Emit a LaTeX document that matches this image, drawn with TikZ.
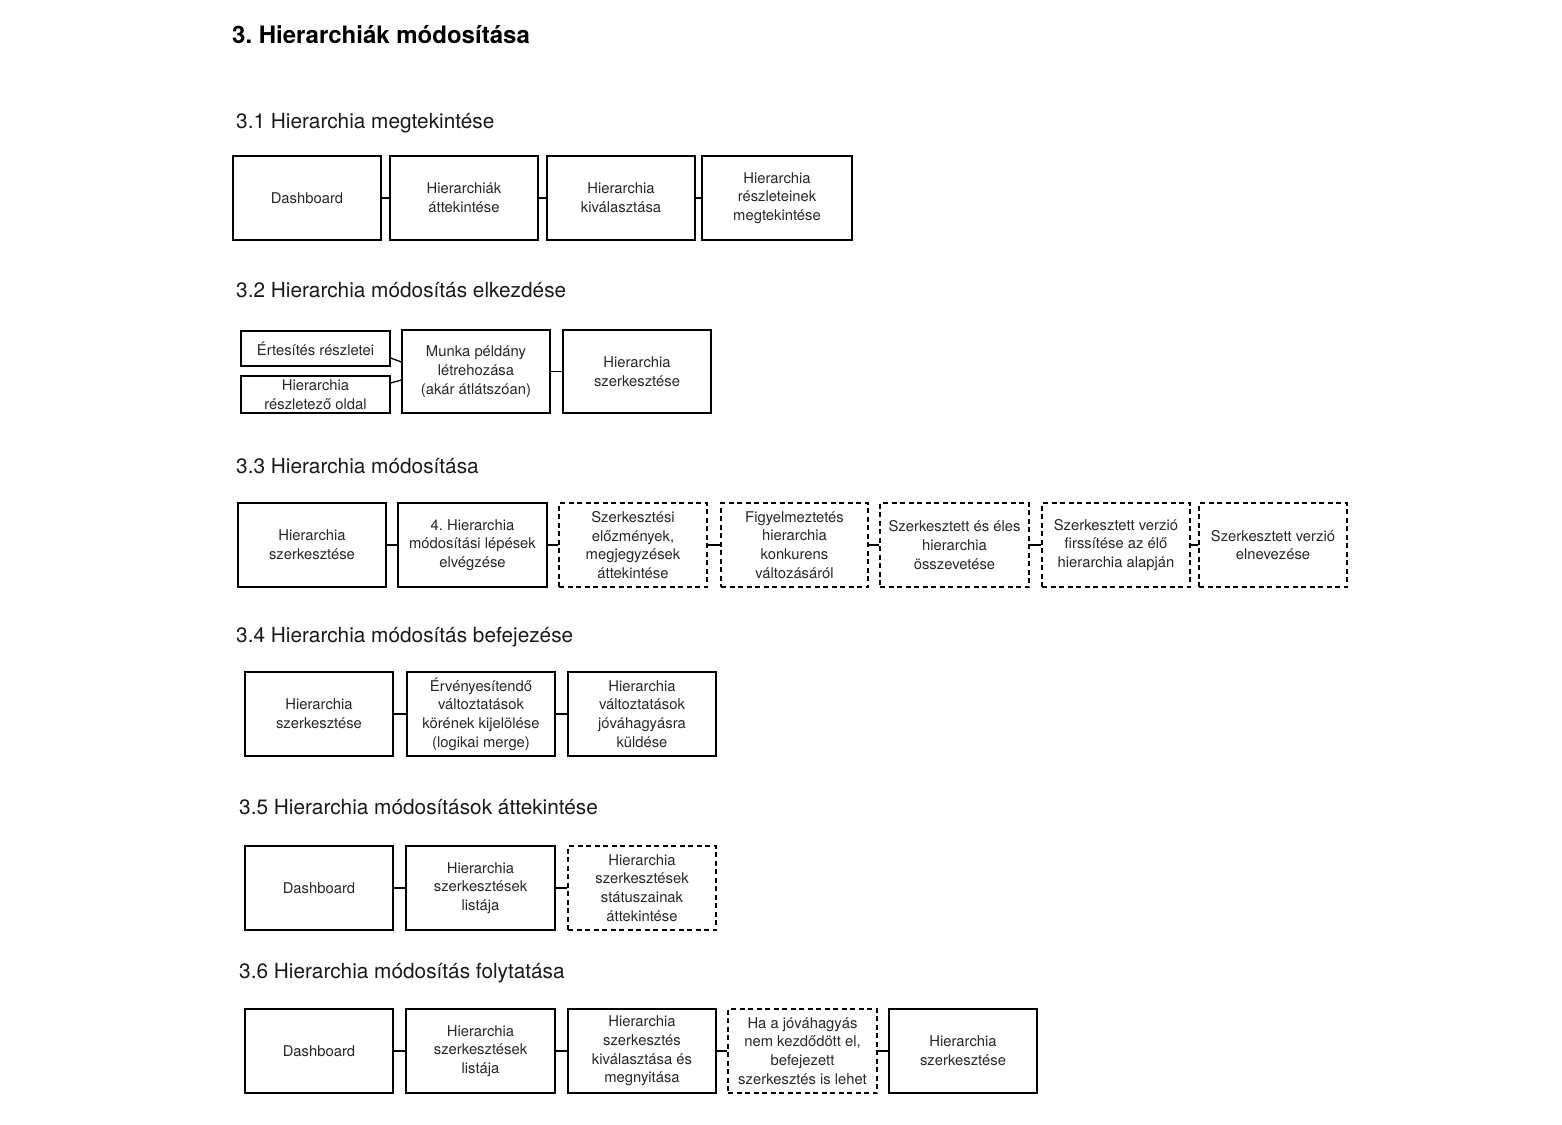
\documentclass[tikz,border=0pt]{standalone}
\usepackage{fontspec}
\setmainfont{TeX Gyre Heros}
\usetikzlibrary{calc}
\frenchspacing
\begin{document}
\begin{tikzpicture}[x=1pt,y=-1pt,
  box/.style={draw=black, line width=1.3pt, minimum width=148pt, minimum height=84pt,
    inner sep=0pt, align=center, text=black!85,
    font=\fontsize{14.8}{18.7}\selectfont},
  dbox/.style={box, dash pattern=on 5pt off 3.5pt},
  link/.style={draw=black, line width=1.3pt},
  heading/.style={anchor=base west, inner sep=0pt, text=black!90,
    font=\fontsize{20.8}{24}\selectfont},
  title/.style={anchor=base west, inner sep=0pt, text=black,
    font=\fontsize{24}{28}\selectfont\bfseries}]
\useasboundingbox (0,0) rectangle (1562,1124);

\node[title] (t0) at (232,44) {3. Hierarchiák módosítása};

% 3.1
\node[heading] (h1) at (236,128) {3.1 Hierarchia megtekintése};
\node[box] (d1) at (307,198) {Dashboard};
\node[box] (d2) at (464,198) {Hierarchiák\\áttekintése};
\node[box] (d3) at (621,198) {Hierarchia\\kiválasztása};
\node[box, minimum width=150pt] (d4) at (777,198) {Hierarchia\\részleteinek\\megtekintése};
\draw[link] (d1) -- (d2);
\draw[link] (d2) -- (d3);
\draw[link] (d3) -- (d4);

% 3.2
\node[heading] (h2) at (236,297) {3.2 Hierarchia módosítás elkezdése};
\node[box, minimum width=149pt, minimum height=35pt] (e1) at (315.5,348.5) {Értesítés részletei};
\node[box, minimum width=149pt, minimum height=37pt] (e2) at (315.5,394.5) {Hierarchia\\részletező oldal};
\node[box, minimum height=83pt] (m) at (476,371.5) {Munka példány\\létrehozása\\(akár átlátszóan)};
\node[box, minimum height=83pt] (s) at (637,371.5) {Hierarchia\\szerkesztése};
\draw[link] ($(e1.east)+(0,9.5)$) -- ($(m.west)+(0,-9.5)$);
\draw[link] ($(e2.east)+(0,-11.5)$) -- ($(m.west)+(0,8.5)$);
\draw[link] (m) -- (s);

% 3.3
\node[heading] (h3) at (236,473) {3.3 Hierarchia módosítása};
\node[box] (a1) at (312,545) {Hierarchia\\szerkesztése};
\node[box, minimum width=149pt] (a2) at (472.5,545) {4. Hierarchia\\módosítási lépések\\elvégzése};
\node[dbox] (a3) at (633,545) {Szerkesztési\\előzmények,\\megjegyzések\\áttekintése};
\node[dbox, minimum width=147pt] (a4) at (794.5,545) {Figyelmeztetés\\hierarchia\\konkurens\\változásáról};
\node[dbox, minimum width=149pt] (a5) at (954.5,545) {Szerkesztett és éles\\hierarchia\\összevetése};
\node[dbox] (a6) at (1116,545) {Szerkesztett verzió\\firssítése az élő\\hierarchia alapján};
\node[dbox] (a7) at (1273,545) {Szerkesztett verzió\\elnevezése};
\draw[link] (a1) -- (a2);
\draw[link] (a2) -- (a3);
\draw[link] (a3) -- (a4);
\draw[link] (a4) -- (a5);
\draw[link] (a5) -- (a6);
\draw[link] (a6) -- (a7);

% 3.4
\node[heading] (h4) at (236,642) {3.4 Hierarchia módosítás befejezése};
\node[box] (b1) at (319,714) {Hierarchia\\szerkesztése};
\node[box] (b2) at (481,714) {Érvényesítendő\\változtatások\\körének kijelölése\\(logikai merge)};
\node[box] (b3) at (642,714) {Hierarchia\\változtatások\\jóváhagyásra\\küldése};
\draw[link] (b1) -- (b2);
\draw[link] (b2) -- (b3);

% 3.5
\node[heading] (h5) at (239,814) {3.5 Hierarchia módosítások áttekintése};
\node[box] (c1) at (319,888) {Dashboard};
\node[box, minimum width=149pt] (c2) at (480.5,888) {Hierarchia\\szerkesztések\\listája};
\node[dbox] (c3) at (642,888) {Hierarchia\\szerkesztések\\státuszainak\\áttekintése};
\draw[link] (c1) -- (c2);
\draw[link] (c2) -- (c3);

% 3.6
\node[heading] (h6) at (239,978) {3.6 Hierarchia módosítás folytatása};
\node[box] (f1) at (319,1051) {Dashboard};
\node[box, minimum width=149pt] (f2) at (480.5,1051) {Hierarchia\\szerkesztések\\listája};
\node[box] (f3) at (642,1051) {Hierarchia\\szerkesztés\\kiválasztása és\\megnyitása};
\node[dbox, minimum width=149pt] (f4) at (802.5,1051) {Ha a jóváhagyás\\nem kezdődött el,\\befejezett\\szerkesztés is lehet};
\node[box] (f5) at (963,1051) {Hierarchia\\szerkesztése};
\draw[link] (f1) -- (f2);
\draw[link] (f2) -- (f3);
\draw[link] (f3) -- (f4);
\draw[link] (f4) -- (f5);
\end{tikzpicture}
\end{document}
